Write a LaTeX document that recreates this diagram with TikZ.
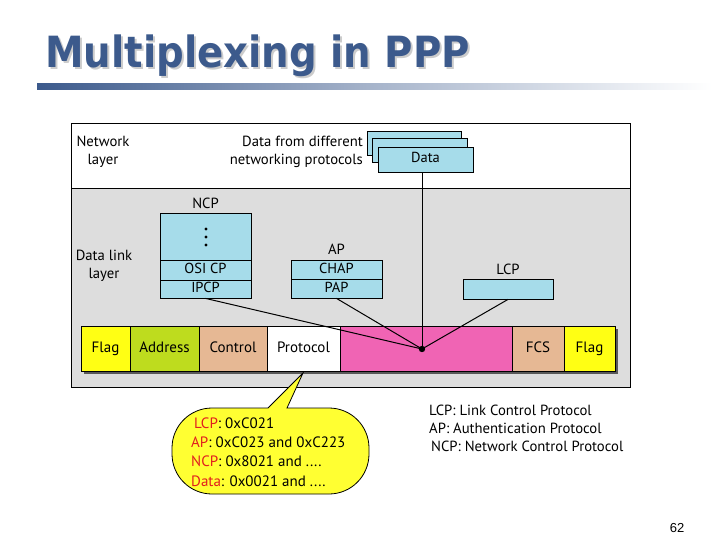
\documentclass[tikz,border=0pt]{standalone}
\usepackage{fontspec}
\usepackage{graphicx}
\setmainfont{PT Sans}
\newfontfamily\titlefont{DejaVu Sans}
\newfontfamily\numfont{Liberation Sans}
\definecolor{titleblue}{RGB}{60,90,140}
\definecolor{lblue}{RGB}{166,220,234}
\definecolor{lgray}{RGB}{221,221,221}
\definecolor{flagyel}{RGB}{255,255,20}
\definecolor{addrgreen}{RGB}{190,220,30}
\definecolor{tan}{RGB}{230,184,148}
\definecolor{pinkf}{RGB}{240,100,180}
\definecolor{callyel}{RGB}{255,255,50}
\definecolor{redlab}{RGB}{225,30,30}
\tikzset{
  txt/.style={font=\fontsize{14.7}{17.5}\selectfont, inner sep=0pt},
  bluebox/.style={draw, fill=lblue, line width=0.8pt, inner sep=0pt, font=\fontsize{14.5}{16}\selectfont, text height=10pt, text depth=3pt},
  field/.style={draw, line width=0.8pt, minimum height=45pt, inner sep=0pt, font=\fontsize{15}{17}\selectfont, text height=10.5pt, text depth=3pt},
  conn/.style={line width=1pt},
}
\begin{document}
\begin{tikzpicture}[x=1pt,y=-1pt]
\useasboundingbox (0,0) rectangle (720,540);
% title
\node[anchor=base west, inner sep=0pt, text=black!20] (titleshadow) at (47,70)
  {\scalebox{0.9}[1]{\titlefont\bfseries\fontsize{43}{48}\selectfont Multiplexing in PPP}};
\node[anchor=base west, inner sep=0pt, text=titleblue] (title) at (45,68)
  {\scalebox{0.9}[1]{\titlefont\bfseries\fontsize{43}{48}\selectfont Multiplexing in PPP}};
\shade[left color=titleblue, right color=white, middle color=titleblue!45] (37,84) rectangle (712,90);
% layers
\fill[white] (71,123) rectangle (630,188);
\fill[lgray] (71,188) rectangle (630,387);
\draw[line width=0.9pt] (71,123) rectangle (630,387);
\draw[line width=0.9pt] (71,188) -- (630,188);
\node[txt, align=center] (netlayer) at (103,152) {Network\\layer};
\node[txt, align=right, anchor=east] (datafrom) at (363,152) {Data from different\\networking protocols};
\node[txt, align=center] (dllayer) at (104,266) {Data link\\layer};
% data boxes
\node[bluebox, minimum width=94pt, minimum height=24pt] (data3) at (414,143) {};
\node[bluebox, minimum width=95pt, minimum height=24pt] (data2) at (419.5,150) {};
\node[bluebox, minimum width=95pt, minimum height=25pt] (data) at (425.5,159.5) {Data};
% NCP stack
\node[txt] (ncplab) at (205.5,203) {NCP};
\node[bluebox, minimum width=91pt, minimum height=47pt] (ncptop) at (205.5,236.5) {};
\fill (206,229) circle (1.6) (206,237) circle (1.6) (206,245) circle (1.6);
\node[bluebox, minimum width=91pt, minimum height=20pt] (osicp) at (205.5,270) {OSI CP};
\node[bluebox, minimum width=91pt, minimum height=18pt] (ipcp) at (205.5,289) {IPCP};
% AP stack
\node[txt] (aplab) at (336.5,249) {AP};
\node[bluebox, minimum width=91pt, minimum height=19pt] (chap) at (336.5,269.5) {CHAP};
\node[bluebox, minimum width=91pt, minimum height=19pt] (pap) at (336.5,288.5) {PAP};
% LCP
\node[txt] (lcplab) at (508,269) {LCP};
\node[bluebox, minimum width=90pt, minimum height=20pt] (lcp) at (508,289) {};
% frame
\fill[black!65] (84,329) rectangle (618,374);
\node[field, fill=flagyel, minimum width=49pt] (flag1) at (105.5,348.5) {Flag};
\node[field, fill=addrgreen, minimum width=69pt] (addr) at (164.5,348.5) {Address};
\node[field, fill=tan, minimum width=68pt] (ctrl) at (233,348.5) {Control};
\node[field, fill=white, minimum width=73pt] (proto) at (303.5,348.5) {Protocol};
\node[field, fill=pinkf, minimum width=172pt] (payload) at (426,348.5) {};
\node[field, fill=tan, minimum width=52pt] (fcs) at (538,348.5) {FCS};
\node[field, fill=flagyel, minimum width=51pt] (flag2) at (589.5,348.5) {Flag};
% connectors
\coordinate (hub) at (422,349);
\draw[conn] (ipcp.south) -- (hub);
\draw[conn] (pap.south) -- (hub);
\draw[conn] (lcp.south) -- (hub);
\draw[conn] (hub |- data.south) -- (hub);
\fill (hub) circle (3.2);
% callout
\coordinate (tip) at (303,373);
\draw[fill=callyel, line width=0.8pt] (tip) -- (287,408)
  {[rounded corners=40pt] -- (369,408) -- (369,494) -- (172,494) -- (172,408)} -- (268,408) -- cycle;
\node[txt, align=left, anchor=west, font=\fontsize{15}{19.3}\selectfont] (calltext) at (191,452)
  {\hspace{3pt}\textcolor{redlab}{LCP}: 0xC021\\
   \textcolor{redlab}{AP}: 0xC023 and 0xC223\\
   \textcolor{redlab}{NCP}: 0x8021 and ....\\
   \textcolor{redlab}{Data}: 0x0021 and ....};
% legend
\node[txt, align=left, anchor=west, font=\fontsize{14.7}{18}\selectfont] (legend) at (429,428.5)
  {LCP: Link Control Protocol\\
   AP: Authentication Protocol\\
   \hspace{2pt}NCP: Network Control Protocol};
% page number
\node[inner sep=0pt, font=\numfont\fontsize{13}{15}\selectfont] (pagenum) at (677,528) {62};
\end{tikzpicture}
\end{document}
